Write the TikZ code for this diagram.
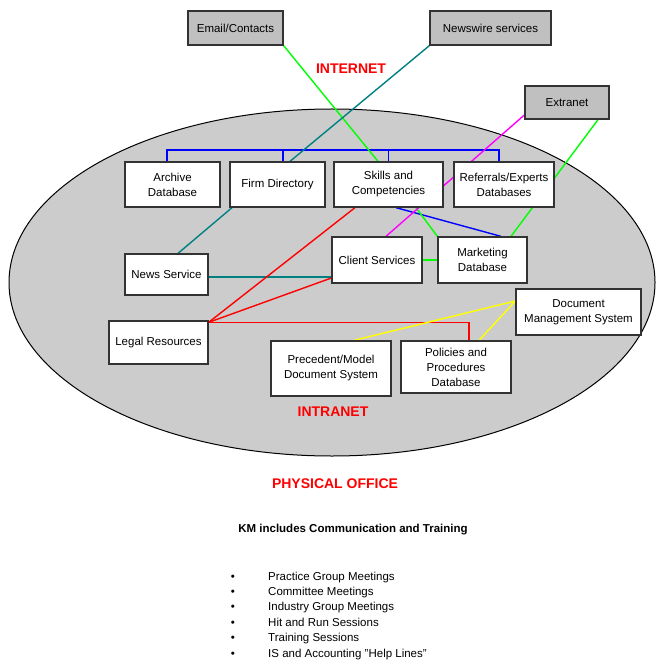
\documentclass[tikz,border=0pt]{standalone}
\usepackage{fontspec}
\setmainfont{Liberation Sans}
\usepackage{xcolor}
\usepackage{tikz}

\definecolor{boxgray}{HTML}{C0C0C0}
\definecolor{ovalgray}{HTML}{CCCCCC}
\definecolor{lgreen}{HTML}{00FF00}
\definecolor{lteal}{HTML}{008080}
\definecolor{lmagenta}{HTML}{FF00FF}
\definecolor{lblue}{HTML}{0000FF}
\definecolor{lred}{HTML}{FF0000}
\definecolor{lyellow}{HTML}{FFFF00}

\pgfdeclarelayer{background}
\pgfsetlayers{background,main}

\tikzset{
  sysbox/.style={draw=black!80, line width=1.3pt, fill=white, align=center, inner sep=0pt,
    font=\fontsize{11.5}{15}\selectfont},
  netbox/.style={sysbox, fill=boxgray},
  link/.style={line width=1.4pt},
  title/.style={text=lred, font=\fontsize{14}{16}\selectfont\bfseries}
}

\begin{document}
\begin{tikzpicture}[x=1pt,y=-1pt]
\useasboundingbox (0,0) rectangle (655,660);

% outside services
\node[netbox, minimum width=95, minimum height=34] (email) at (235.5,28) {Email/Contacts};
\node[netbox, minimum width=121, minimum height=34] (newswire) at (490.5,28) {Newswire services};
\node[netbox, minimum width=84, minimum height=33] (extranet) at (567,102.5) {Extranet};

% intranet systems
\node[sysbox, minimum width=95, minimum height=45] (archive) at (172.5,184.5) {Archive\\Database};
\node[sysbox, minimum width=95, minimum height=45] (firmdir) at (277.5,184.5) {Firm Directory};
\node[sysbox, minimum width=109, minimum height=45] (skills) at (388.5,184.5) {Skills and\\Competencies};
\node[sysbox, minimum width=100, minimum height=45] (referrals) at (504,184.5) {Referrals/Experts\\Databases};
\node[sysbox, minimum width=83, minimum height=41] (news) at (166.5,274.5) {News Service};
\node[sysbox, minimum width=90, minimum height=46] (client) at (377,260) {Client Services};
\node[sysbox, minimum width=89, minimum height=46] (marketing) at (482.5,260) {Marketing\\Database};
\node[sysbox, minimum width=125, minimum height=46] (docmgmt) at (578.5,312) {Document\\Management System};
\node[sysbox, minimum width=99, minimum height=43] (legal) at (158.5,342.5) {Legal Resources};
\node[sysbox, minimum width=120, minimum height=55] (precedent) at (331,368.5) {Precedent/Model\\Document System};
\node[sysbox, minimum width=110, minimum height=52] (policies) at (456,367) {Policies and\\Procedures\\Database};

\node[title] (internet) at (351,69) {INTERNET};
\node[title] (intranet) at (333,412) {INTRANET};
\node[title] (office) at (335,484) {PHYSICAL OFFICE};
\node[font=\fontsize{11.5}{14}\selectfont\bfseries] (km) at (353,530) {KM includes Communication and Training};

\foreach \t [count=\i from 0] in {Practice Group Meetings, Committee Meetings, Industry Group Meetings,
    Hit and Run Sessions, Training Sessions, IS and Accounting \char34 Help Lines\char34}{
  \node[font=\fontsize{11.5}{14}\selectfont, anchor=base, inner sep=0pt] (dot\i) at (233,580+15.4*\i) {•};
  \node[font=\fontsize{11.5}{14}\selectfont, anchor=base west, inner sep=0pt] (item\i) at (268,580+15.4*\i) {\t};
}

\begin{pgfonlayer}{background}
\draw[fill=ovalgray, line width=1pt] (332,282.5) ellipse (323 and 173.5);

\coordinate (bus) at (0,150);
\draw[link, lblue] ([xshift=-5.5pt]archive.north) -- ([xshift=-5.5pt]archive.north |- bus)
  -- ([xshift=-5pt]referrals.north |- bus) -- ([xshift=-5pt]referrals.north);
\draw[link, lblue] ([xshift=5.5pt]firmdir.north) -- ([xshift=5.5pt]firmdir.north |- bus);
\draw[link, lblue] (skills.north) -- (skills.north |- bus);
\draw[link, lblue] ([xshift=7.5pt]skills.south) -- ([xshift=18.5pt]marketing.north);

\draw[link, lgreen] (email.south east) -- ([xshift=-10.5pt]skills.north);
\draw[link, lgreen] ([xshift=27.5pt]skills.south) -- (marketing.north west);
\draw[link, lgreen] ([xshift=31pt]extranet.south) -- ([xshift=28.5pt]marketing.north);
\draw[line width=2.2pt, lgreen] (client.east) -- (marketing.west);

\draw[link, lmagenta] ([yshift=-12.5pt]extranet.west) -- ([xshift=9pt]client.north);

\draw[link, lteal] (newswire.south west) -- ([xshift=12.5pt]firmdir.north);
\draw[link, lteal] ([xshift=-45.5pt]firmdir.south) -- ([xshift=11.5pt]news.north);
\draw[link, lteal] ([yshift=-2.5pt]news.east) -- ([yshift=-2.5pt]news.east -| client.west);

\draw[link, lred] ([xshift=-33.5pt]skills.south) -- ([yshift=-2pt]legal.north east);
\draw[link, lred] ([yshift=-18pt]client.west) -- ([yshift=-2pt]legal.north east);
\draw[link, lred] ([yshift=-2pt]legal.north east) -| ([xshift=13pt]policies.north);

\draw[link, lyellow] ([xshift=23pt]precedent.north) -- ([yshift=11pt]docmgmt.west);
\draw[link, lyellow] ([xshift=23pt]policies.north) -- ([yshift=11pt]docmgmt.west);
\end{pgfonlayer}
\end{tikzpicture}
\end{document}
